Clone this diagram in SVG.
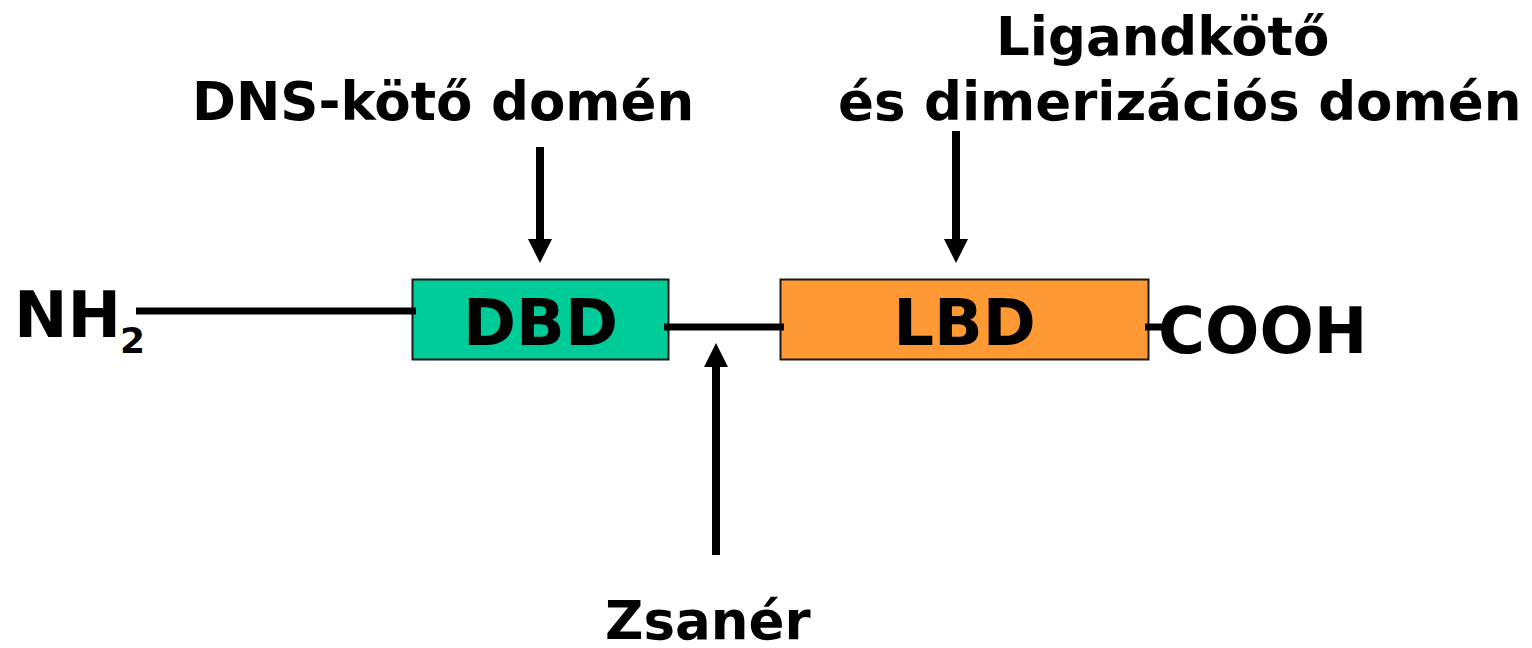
<svg xmlns="http://www.w3.org/2000/svg" width="1532" height="648" viewBox="0 0 1532 648">
  <defs>
    <style>
      .t { font-family: "DejaVu Sans", "Liberation Sans", sans-serif; font-weight: bold; fill: #000; }
      .lbl { font-size: 53px; }
      .big { font-size: 64px; }
      .sub { font-size: 36px; }
      .box { stroke: #1a1a1a; stroke-width: 2; }
      .chain { stroke: #000; stroke-width: 7; fill: none; }
      .shaft { stroke: #000; stroke-width: 8; fill: none; }
      .head { fill: #000; }
    </style>
  </defs>

  <!-- terminal labels -->
  <g id="nterm">
    <text class="t big" x="14" y="337">NH</text>
    <text class="t sub" x="120" y="353">2</text>
  </g>
  <g id="cterm">
    <text class="t big" x="1158" y="353">COOH</text>
  </g>

  <!-- domains -->
  <g id="dbd">
    <rect class="box" x="412.5" y="279.5" width="256" height="80" fill="#00CC99"/>
    <text class="t big" x="540.5" y="345" text-anchor="middle">DBD</text>
  </g>
  <g id="lbd">
    <rect class="box" x="780.5" y="279.5" width="368" height="80" fill="#FF9933"/>
    <text class="t big" x="964.5" y="345" text-anchor="middle">LBD</text>
  </g>

  <!-- annotation labels -->
  <g id="dbd-label">
    <text class="t lbl" x="192" y="120">DNS-kötő domén</text>
  </g>
  <g id="lbd-label">
    <text class="t lbl" x="996" y="55">Ligandkötő</text>
    <text class="t lbl" x="838" y="120">és dimerizációs domén</text>
  </g>
  <g id="hinge-label">
    <text class="t lbl" x="605" y="639">Zsanér</text>
  </g>

  <!-- connectors: backbone segments and pointer arrows -->
  <g id="connectors">
    <line class="chain" x1="136" y1="311" x2="416" y2="311"/>
    <line class="chain" x1="664" y1="327" x2="784" y2="327"/>
    <line class="chain" x1="1145" y1="327" x2="1162" y2="327"/>

    <line class="shaft" x1="540" y1="147" x2="540" y2="242"/>
    <polygon class="head" points="528,239 552,239 540,263"/>

    <line class="shaft" x1="956" y1="131" x2="956" y2="242"/>
    <polygon class="head" points="944,239 968,239 956,263"/>

    <line class="shaft" x1="716" y1="555" x2="716" y2="364"/>
    <polygon class="head" points="704,367 728,367 716,343"/>
  </g>
</svg>
